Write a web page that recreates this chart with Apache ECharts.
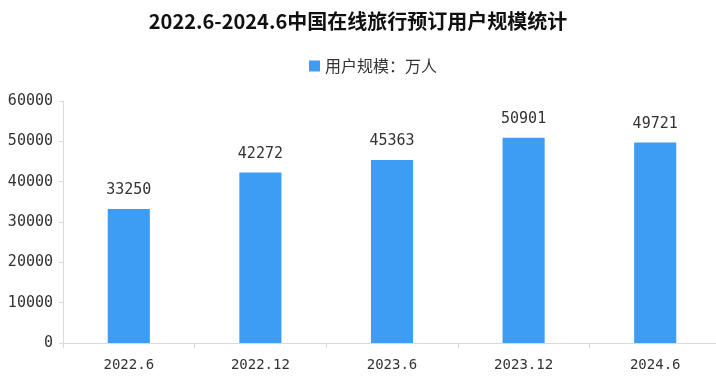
<!DOCTYPE html>
<html><head><meta charset="utf-8">
<script src="https://cdn.jsdelivr.net/npm/echarts@6/dist/echarts.min.js"></script>
<style>html,body{margin:0;padding:0;background:#fff}#c{width:716px;height:383px}</style>
</head><body><div id="c"></div>
<script>
const categories = ["2022.6", "2022.12", "2023.6", "2023.12", "2024.6"];
const users = [33250, 42272, 45363, 50901, 49721];
const seriesName = "用户规模：万人";
const titleText = "2022.6-2024.6中国在线旅行预订用户规模统计";
const font = "'DejaVu Sans Mono', 'Noto Sans CJK SC', monospace";
const cjk = "'Noto Sans CJK SC', sans-serif";
const chart = echarts.init(document.getElementById('c'));
chart.setOption({
  animation: false,
  title: { text: titleText, left: 'center', top: 6, textStyle: { fontFamily: cjk, fontSize: 20, fontWeight: 'bold', color: '#111' } },
  legend: { left: 304, top: 53, itemWidth: 11, itemHeight: 11, itemGap: 6, icon: 'rect', textStyle: { fontFamily: cjk, fontSize: 16, color: '#333' }, data: [seriesName] },
  grid: { left: 63, right: -5, top: 101, bottom: 40, containLabel: false, outerBoundsMode: 'none' },
  xAxis: { type: 'category', data: categories,
    axisLine: { lineStyle: { color: '#d9d9d9' } },
    axisTick: { show: true, lineStyle: { color: '#d9d9d9' }, length: 5 },
    axisLabel: { fontFamily: font, fontSize: 14, color: '#333', margin: 15 } },
  yAxis: { type: 'value', min: 0, max: 60000, interval: 10000,
    axisLine: { show: true, lineStyle: { color: '#d9d9d9' } },
    axisTick: { show: true, lineStyle: { color: '#d9d9d9' }, length: 4 },
    splitLine: { show: false },
    axisLabel: { fontFamily: font, fontSize: 15, color: '#333', margin: 10, formatter: v => String(v) } },
  series: [{ name: seriesName, type: 'bar', data: users, barWidth: '32%',
    itemStyle: { color: '#3d9cf3' },
    label: { show: true, position: 'top', distance: 11, fontFamily: font, fontSize: 15, color: '#333' } }]
});
</script></body></html>
